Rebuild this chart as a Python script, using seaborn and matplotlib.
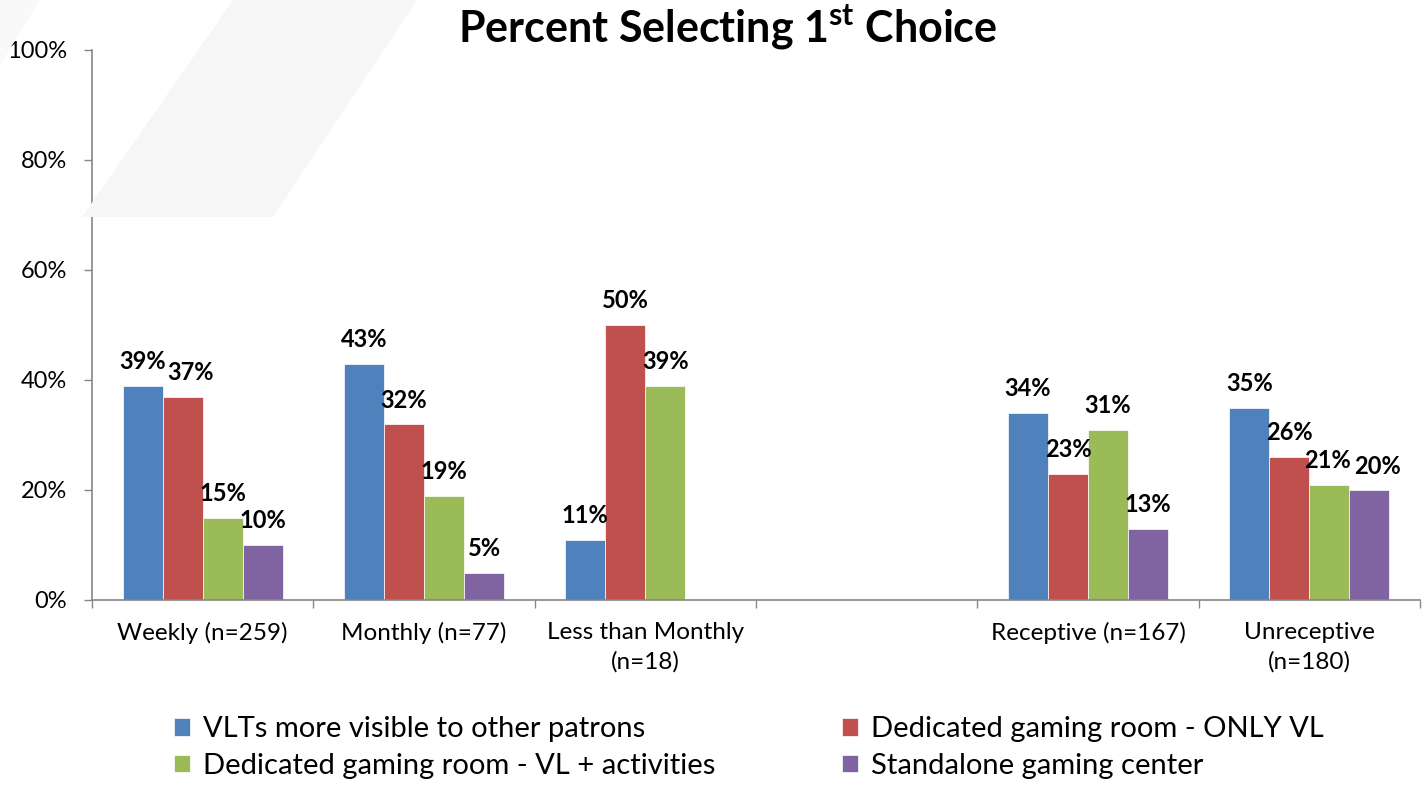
import matplotlib
matplotlib.use("Agg")
import matplotlib.pyplot as plt
from matplotlib.patches import Polygon
from matplotlib.ticker import FixedLocator, NullFormatter
import seaborn as sns
import pandas as pd
import numpy as np

# Groups along the x axis; the blank entry leaves an empty slot between the two sets
groups = ["Weekly (n=259)", "Monthly (n=77)", "Less than Monthly\n(n=18)", " ",
          "Receptive (n=167)", "Unreceptive\n(n=180)"]
series = ["VLTs more visible to other patrons",
          "Dedicated gaming room - ONLY VL",
          "Dedicated gaming room - VL + activities",
          "Standalone gaming center"]
colors = ["#4F81BD", "#C0504D", "#9BBB59", "#8064A2"]

vlts_visible = [39, 43, 11, None, 34, 35]
room_only_vl = [37, 32, 50, None, 23, 26]
room_vl_activities = [15, 19, 39, None, 31, 21]
standalone_center = [10, 5, None, None, 13, 20]

rows = []
for name, vals in zip(series, [vlts_visible, room_only_vl, room_vl_activities, standalone_center]):
    for g, v in zip(groups, vals):
        if v is not None:
            rows.append({"group": g, "series": name, "pct": v})
df = pd.DataFrame(rows)

sns.set_theme(style="white")
plt.rcParams["font.family"] = ["Lato", "DejaVu Sans"]
plt.rcParams["mathtext.fontset"] = "custom"
plt.rcParams["mathtext.rm"] = "Lato"
plt.rcParams["mathtext.bf"] = "Lato:bold"
plt.rcParams["text.color"] = "black"
plt.rcParams["xtick.labelcolor"] = "black"
plt.rcParams["ytick.labelcolor"] = "black"

fig = plt.figure(figsize=(14.22, 7.86), dpi=100)
fig.patch.set_facecolor("white")

# faint decorative background shapes
fig.patches.append(Polygon([(82 / 1422, 1 - 217 / 786), (273 / 1422, 1 - 217 / 786),
                            (417 / 1422, 1.0), (233 / 1422, 1.0)],
                           closed=True, transform=fig.transFigure,
                           facecolor="#f6f6f6", edgecolor="none", zorder=0))
fig.patches.append(Polygon([(0, 1.0), (40 / 1422, 1.0), (0, 1 - 65 / 786)],
                           closed=True, transform=fig.transFigure,
                           facecolor="#f9f9f9", edgecolor="none", zorder=0))

ax = fig.add_axes([92 / 1422, 1 - 600 / 786, (1420 - 92) / 1422, 550 / 786])
ax.set_facecolor("none")

sns.barplot(data=df, x="group", y="pct", hue="series", order=groups,
            hue_order=series, palette=colors, width=0.724, dodge=True,
            saturation=1, edgecolor="#ffffff", linewidth=0.5, ax=ax, legend=True)

# small sideways nudges (points) for labels that would otherwise collide
nudges = {(1, 0): 6, (3, 5): 6, (2, 5): -1}
for si, cont in enumerate(ax.containers):
    labels = [f"{v:.0f}%" if not np.isnan(v) else "" for v in cont.datavalues]
    texts = ax.bar_label(cont, labels=labels, padding=9, fontsize=17,
                         fontweight="bold", color="black")
    # map label slots back to group positions
    for t, bar in zip(texts, cont.patches):
        gi = int(round(bar.get_x() + bar.get_width() / 2))
        dx = nudges.get((si, gi), 0)
        if dx:
            t.xyann = (dx, t.xyann[1])

ax.set_ylim(0, 100)
ax.set_xlim(-0.5, len(groups) - 0.5)
ax.set_yticks(np.arange(0, 101, 20))
ax.set_yticklabels([f"{t}%" for t in range(0, 101, 20)], fontsize=17)
ax.tick_params(axis="y", length=6, width=1, color="#868686", pad=12, left=True)
ax.tick_params(axis="x", which="major", length=0, pad=16, labelsize=17.5)
for lbl in ax.get_xticklabels():
    lbl.set_linespacing(1.45)
ax.xaxis.set_minor_locator(FixedLocator(np.arange(-0.5, len(groups), 1.0)))
ax.xaxis.set_minor_formatter(NullFormatter())
ax.tick_params(axis="x", which="minor", length=6, width=1, color="#868686", bottom=True)
ax.set_xlabel("")
ax.set_ylabel("")
for s in ["top", "right"]:
    ax.spines[s].set_visible(False)
for s in ["left", "bottom"]:
    ax.spines[s].set_color("#868686")
    ax.spines[s].set_linewidth(1.2)

handles, labels = ax.get_legend_handles_labels()
ax.legend_.remove()
# row-major order across the two legend columns
order = [0, 2, 1, 3]
fig.legend([handles[i] for i in order], [labels[i] for i in order],
           loc="upper left", bbox_to_anchor=(148 / 1422, 1 - 690 / 786),
           ncol=2, frameon=False, fontsize=21, handlelength=0.55, handleheight=0.55,
           handletextpad=0.45, columnspacing=4.33, labelspacing=0.36,
           labelcolor="black")

fig.text(728 / 1422, 1 - 28 / 786, r"Percent Selecting 1$^{\mathbf{st}}$ Choice",
         ha="center", va="center", fontsize=31, fontweight="bold", color="black")

fig.savefig("out.png", dpi=100, facecolor="white")
